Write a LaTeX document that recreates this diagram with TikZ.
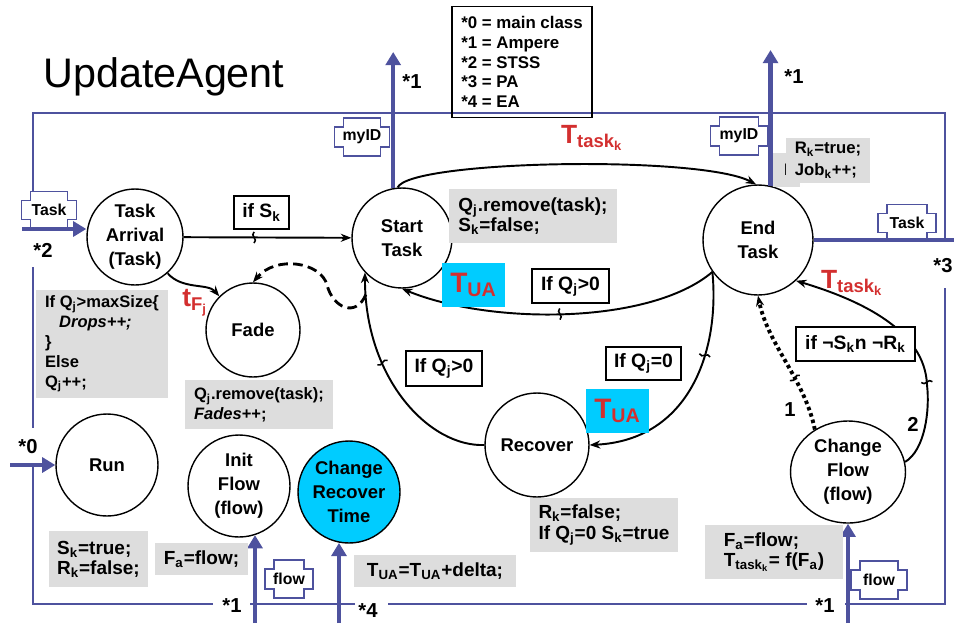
\documentclass[tikz,border=0pt]{standalone}
\usepackage{fontspec}
\setmainfont{Liberation Sans}
\usetikzlibrary{arrows.meta, calc, shapes.geometric, decorations.markings}

\definecolor{busblue}{RGB}{78,82,158}
\definecolor{codegray}{RGB}{221,221,221}
\definecolor{tuacyan}{RGB}{0,204,255}
\definecolor{timered}{RGB}{211,47,47}

\newcommand{\statefont}{\bfseries\fontsize{10.5}{13.6}\selectfont}
\newcommand{\codefont}{\bfseries\fontsize{10.8}{11.4}\selectfont}
\newcommand{\smallcode}{\bfseries\fontsize{9.4}{11.3}\selectfont}
\newcommand{\tagfont}{\bfseries\fontsize{9}{10}\selectfont}
\newcommand{\starfont}{\bfseries\fontsize{11.5}{12}\selectfont}

% port symbol: name, centre, width, height, text (sizes in px)
\newcommand{\porttag}[5]{%
  \filldraw[portline, shift={#2}] ({-#3/2+9},{-#4/2}) -- ({#3/2-9},{-#4/2}) -- ({#3/2-9},{-#4/2+9})
    -- ({#3/2},{-#4/2+9}) -- ({#3/2},{#4/2-9}) -- ({#3/2-9},{#4/2-9}) -- ({#3/2-9},{#4/2})
    -- ({-#3/2+9},{#4/2}) -- ({-#3/2+9},{#4/2-9}) -- ({-#3/2},{#4/2-9}) -- ({-#3/2},{-#4/2+9})
    -- ({-#3/2+9},{-#4/2+9}) -- cycle;
  \node[tagtxt] (#1) at #2 {#5};
}

\begin{document}
\begin{tikzpicture}[x=0.02cm, y=-0.02cm,
  state/.style={draw, circle, fill=white, line width=0.8pt, align=center, inner sep=0pt, font=\statefont},
  code/.style={fill=codegray, align=left, inner sep=0pt, font=\codefont},
  cond/.style={draw, fill=white, line width=0.8pt, inner sep=0pt, font=\bfseries\fontsize{11}{12}\selectfont},
  tua/.style={fill=tuacyan, text=timered, inner sep=0pt, font=\bfseries\fontsize{16}{16}\selectfont},
  wh/.style 2 args={minimum width=#1*0.02cm, minimum height=#2*0.02cm},
  trans/.style={line width=1.1pt, -{Stealth[length=6pt, width=4.6pt]}},
  dashline/.style={line width=1.6pt, dash pattern=on 5.5pt off 3pt},
  dotline/.style={line width=2.2pt, dash pattern=on 2pt off 1.8pt},
  bus/.style={draw=busblue, line width=2.5pt, -{Triangle[length=7.5pt, width=8.5pt]}},
  frameline/.style={draw=busblue, line width=0.9pt},
  portline/.style={draw=busblue, line width=0.8pt, fill=white},
  tagtxt/.style={inner sep=0pt, font=\tagfont},
  star/.style={inner sep=0pt, font=\starfont},
  timelbl/.style={inner sep=0pt, text=timered, font=\bfseries\fontsize{15}{15}\selectfont},
  squig/.style={postaction={decorate}, decoration={markings, mark=at position #1 with {\draw[-, solid, line width=0.9pt] (0,-3.2pt) .. controls (2.6pt,-1pt) and (-2.6pt,1pt) .. (0,3.2pt);}}}
]
\useasboundingbox (0,0) rectangle (954,623);

% agent frame
\draw[frameline] (33,229) -- (33,113) -- (945,113) -- (945,242);
\draw[frameline] (33,267) -- (33,428);
\draw[frameline] (33,466) -- (33,604) -- (213,604);
\draw[frameline] (250,604) -- (355,604);
\draw[frameline] (388,604) -- (807,604);
\draw[frameline] (845,604) -- (945,604) -- (945,288);

\node[anchor=base west, inner sep=0pt, font=\fontsize{23.5}{24}\selectfont] (title) at (43,87) {UpdateAgent};

\node[draw, line width=0.8pt, align=left, inner sep=0pt, wh={140}{111}, font=\bfseries\fontsize{9.6}{11.3}\selectfont] (legend) at (522,62)
  {*0 = main class\\*1 = Ampere\\*2 = STSS\\*3 = PA\\*4 = EA};

% ports
\porttag{taskTagL}{(49,210)}{55}{37}{Task}
\porttag{myIdL}{(362,137)}{55}{38}{myID}
\porttag{myIdR}{(739,136)}{57}{38}{myID}
\porttag{taskTagR}{(907,223)}{58}{37}{Task}
\porttag{flowTagL}{(289,579)}{48}{38}{flow}
\porttag{flowTagR}{(879,580)}{56}{38}{flow}

% states
\node[state, minimum size=1.92cm] (taskArrival) at (135,237) {Task\\Arrival\\(Task)};
\node[state, minimum size=2cm] (startTask) at (402,238) {Start\\Task};
\node[state, minimum size=2.2cm] (endTask) at (758,240) {End\\Task};
\node[state, minimum size=1.88cm] (fade) at (253,330) {Fade};
\node[state, minimum size=2.04cm] (run) at (107,465) {Run};
\node[state, minimum size=2.04cm] (initFlow) at (239,486) {Init\\Flow\\(flow)};
\node[state, minimum size=2.04cm, fill=tuacyan] (changeRecover) at (349,492) {Change\\Recover\\Time};
\node[state, minimum size=2.08cm] (recover) at (537,445) {Recover};
\node[state, ellipse, minimum width=2.3cm, minimum height=2.04cm] (changeFlow) at (848,472) {Change\\Flow\\(flow)};

% external connections
\coordinate (startUp) at (392,52);
\coordinate (endUp) at (770,50);
\coordinate (taskSrc) at (22,229);
\coordinate (taskSink) at (954,240);
\coordinate (runSrc) at (10,465);
\coordinate (initSrc) at (255,623);
\coordinate (recoverTimeSrc) at (339,623);
\coordinate (flowSrc) at (848,623);
\draw[bus] (startTask.100) -- (startTask.100 |- startUp);
\draw[bus] (endTask.77) -- (endTask.77 |- endUp);
\draw[bus] (taskSrc) -- (taskSrc -| taskArrival.west);
\draw[bus, -] (endTask.east) -- (taskSink);
\draw[bus] (runSrc) -- (run.west);
\draw[bus] (initSrc) -- (initSrc |- initFlow.-72);
\draw[bus] (recoverTimeSrc) -- (recoverTimeSrc |- changeRecover.-100);
\draw[bus] (flowSrc) -- (changeFlow.south);

\node[star] (starTwo) at (43,250) {*2};
\node[star] (starZero) at (28,447) {*0};
\node[star] (starOneA) at (232,606) {*1};
\node[star] (starFour) at (368,611) {*4};
\node[star] (starOneB) at (825,606) {*1};
\node[star] (starOneC) at (412,82) {*1};
\node[star] (starOneD) at (794,77) {*1};
\node[star] (starThree) at (943,266) {*3};

% actions
\node[code, wh={168}{54}] (startCode) at (533,216) {Q\textsubscript{j}.remove(task);\\S\textsubscript{k}=false;};
\node[code, font=\bfseries\fontsize{9.5}{12.4}\selectfont, wh={27}{34}] (hiddenCode) at (786.5,170) {I};
\node[code, font=\bfseries\fontsize{9.5}{12.4}\selectfont, wh={84}{45}] (endCode) at (828,160.5) {R\textsubscript{k}=true;\\Job\textsubscript{k}++;};
\node[code, font=\smallcode, wh={132}{108}] (arrivalCode) at (102,344) {If Q\textsubscript{j}>maxSize\{\\\hspace*{8pt}\textit{Drops++;}\\\}\\Else\\Q\textsubscript{j}++;};
\node[code, font=\smallcode, wh={148}{49}] (fadeCode) at (259,404.5) {Q\textsubscript{j}.remove(task);\\\textit{Fades}++;};
\node[code, wh={99}{56}] (runCode) at (98.5,559) {S\textsubscript{k}=true;\\R\textsubscript{k}=false;};
\node[code, wh={93}{32}] (initCode) at (201.5,559) {F\textsubscript{a}=flow;};
\node[code, wh={162}{32}] (recoverTimeCode) at (435,571) {T\textsubscript{UA}=T\textsubscript{UA}+delta;};
\node[code, wh={148}{54}] (recoverCode) at (604,525) {R\textsubscript{k}=false;\\If Q\textsubscript{j}=0 S\textsubscript{k}=true};
\node[code, wh={138}{54}] (flowCode) at (774,552) {F\textsubscript{a}=flow;\\T\textsubscript{task\textsubscript{k}}= f(F\textsubscript{a})};

% transitions
\draw[trans, squig=0.42] (taskArrival) -- (startTask);
\draw[trans] (taskArrival.-48) .. controls (182,290) and (208,283) .. (fade.135);
\draw[trans] (startTask.95) .. controls (410,160) and (700,155) .. (endTask.92);
\draw[trans, squig=0.5] (endTask.215) .. controls (650,325) and (490,325) .. (startTask.south);
\draw[trans, squig=0.35] (endTask.215) .. controls (720,350) and (690,440) .. (recover.east);
\draw[trans, squig=0.6] (recover.west) .. controls (430,447) and (365,380) .. (startTask.223) coordinate[pos=0.93] (fadeFork);
\draw[trans, dashline] (fadeFork) .. controls (356,318) and (333,308) .. (327,285) .. controls (321,262) and (276,255) .. (fade.north);
\draw[trans, dotline, squig=0.38] (changeFlow.128) .. controls (805,380) and (768,345) .. (endTask.south);
\draw[trans, squig=0.33] (changeFlow.10) .. controls (925,450) and (930,410) .. (927,385) .. controls (925,330) and (860,300) .. (endTask.-47);

% guards
\node[cond, wh={55}{33}] (ifSk) at (261.5,212.5) {if S\textsubscript{k}};
\node[cond, wh={77}{34}] (ifQjUp) at (570.5,286) {If Q\textsubscript{j}>0};
\node[cond, wh={76}{35}] (ifQjLeft) at (444,368.5) {If Q\textsubscript{j}>0};
\node[cond, wh={75}{33}] (ifQjZero) at (643.5,363.5) {If Q\textsubscript{j}=0};
\node[cond, wh={119}{34}] (ifNotSR) at (855.5,344) {if ¬S\textsubscript{k}n ¬R\textsubscript{k}};

\node[tua, wh={63}{44}] (tuaUp) at (473.5,285) {T\textsubscript{UA}};
\node[tua, wh={63}{44}] (tuaDown) at (617.5,411) {T\textsubscript{UA}};

\node[timelbl] (taskTimeTop) at (592,138) {T\textsubscript{task\textsubscript{k}}};
\node[timelbl] (taskTimeRight) at (852,283) {T\textsubscript{task\textsubscript{k}}};
\node[timelbl] (fadeTime) at (195,303) {t\textsubscript{F\textsubscript{j}}};

\node[star] (branchOne) at (790,410) {1};
\node[star] (branchTwo) at (913,424) {2};

\end{tikzpicture}
\end{document}
